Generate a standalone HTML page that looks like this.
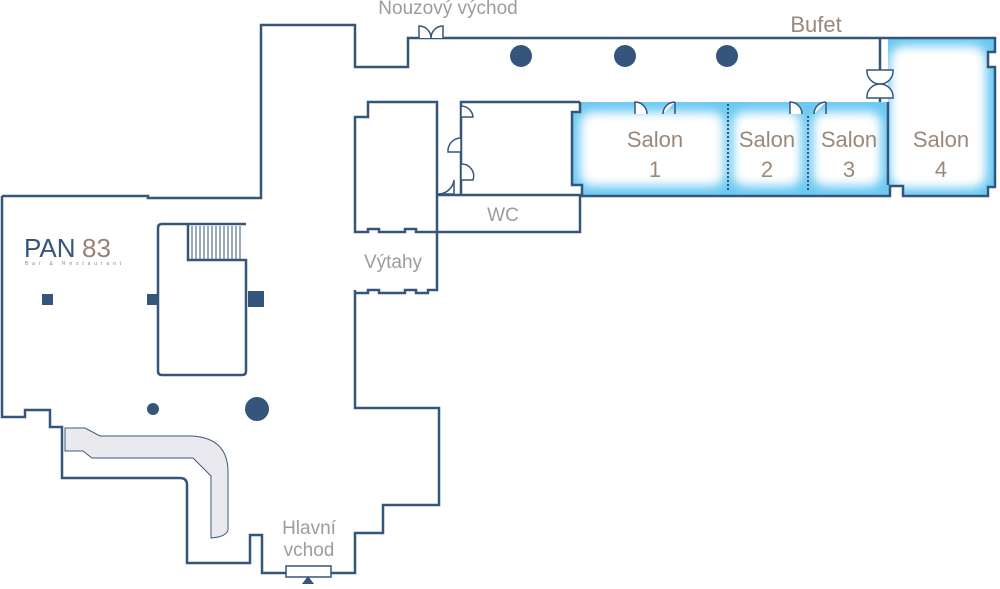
<!DOCTYPE html>
<html><head><meta charset="utf-8"><style>
html,body{margin:0;padding:0;background:#fff;width:1000px;height:589px;overflow:hidden}
svg{display:block}
.t{font-family:"Liberation Sans",sans-serif;}
</style></head><body>
<svg width="1000" height="589" viewBox="0 0 1000 589" xmlns="http://www.w3.org/2000/svg">
<defs>
<filter id="bl" x="-20%" y="-20%" width="140%" height="140%"><feGaussianBlur stdDeviation="5"/></filter>
<clipPath id="c1"><path d="M580,102 H888 V185 H890 V196 H582 V185 H572 V112 H580 Z"/></clipPath>
<clipPath id="c4"><path d="M880,38 H995 V52 H988 V67 H995 V187 H988 V196 H903 V186 H888 V38 Z"/></clipPath>
</defs>
<g clip-path="url(#c1)">
<rect x="560" y="95" width="340" height="110" fill="#6cc9f2"/>
<rect x="580" y="112" width="144" height="74" rx="12" fill="#fff" filter="url(#bl)"/>
<rect x="733" y="112" width="68" height="74" rx="12" fill="#fff" filter="url(#bl)"/>
<rect x="813" y="112" width="68" height="74" rx="12" fill="#fff" filter="url(#bl)"/>
</g>
<g clip-path="url(#c4)">
<rect x="870" y="30" width="135" height="175" fill="#6cc9f2"/>
<rect x="890" y="46" width="96" height="142" rx="14" fill="#fff" filter="url(#bl)"/>
</g>
<path d="M65,428 H85 L100,436 H192 Q228,438 228,472 V530 Q226,537 211,538 V476 L193,458 H92 L83,451 H65 Z" fill="#e9e9ee" stroke="#3a5a80" stroke-width="1"/>
<g fill="none" stroke="#36557a" stroke-width="2.5" stroke-linejoin="miter">
<path d="M2,196 H148 V198 H261 V25 H355 V67 H408 V38 H995 V52 H988 V67 H995 V187 H988 V196 H903 V186 H890 V196 H582 V185 H572 V112 H580 V102"/>
<path d="M2,196 V417 H25 V410 H50 V427 H62 V478 H180 Q187,478 187,485 V563 H250 V535 H262 V573 H355 V533 H383 V505 H439 V408 H355 V290"/>
<path d="M580,102 H461 V195"/>
<path d="M880,38 V102"/>
<path d="M888,102 V185"/>
<path d="M437,232 V102 H368 V117 H355 V232 H368 V229 H379 V232 H405 V229 H416 V232 H437 V290 H428 V293 H416 V290 H405 V293 H379 V290 H368 V293 H355"/>
<path d="M437,195 H580 V232 H437"/>
<path d="M246,224 H162 Q158,224 158,228 V371 Q158,375 162,375 H242 Q246,375 246,371 V260 H188 V224"/>
</g>
<g stroke="#36557a" stroke-width="2" stroke-dasharray="2,2">
<line x1="728" y1="104" x2="728" y2="190"/>
<line x1="808" y1="116" x2="808" y2="190"/>
</g>
<g stroke="#36557a" stroke-width="1">
<line x1="192" y1="226" x2="192" y2="259"/><line x1="196" y1="226" x2="196" y2="259"/><line x1="200" y1="226" x2="200" y2="259"/><line x1="204" y1="226" x2="204" y2="259"/><line x1="208" y1="226" x2="208" y2="259"/><line x1="212" y1="226" x2="212" y2="259"/><line x1="216" y1="226" x2="216" y2="259"/><line x1="220" y1="226" x2="220" y2="259"/><line x1="224" y1="226" x2="224" y2="259"/><line x1="228" y1="226" x2="228" y2="259"/><line x1="232" y1="226" x2="232" y2="259"/><line x1="236" y1="226" x2="236" y2="259"/><line x1="240" y1="226" x2="240" y2="259"/>
</g>
<g fill="#36557a">
<rect x="42" y="294" width="11" height="11"/>
<rect x="147" y="294" width="10" height="11"/>
<rect x="248" y="291" width="16" height="16"/>
<circle cx="153" cy="409" r="6"/>
<circle cx="257" cy="409" r="12"/>
<circle cx="521" cy="56" r="11"/>
<circle cx="625" cy="56" r="11"/>
<circle cx="727" cy="56" r="11"/>
</g>
<g fill="#fff" stroke="#36557a" stroke-width="1.5">
<path d="M419,38 V26 A12,12 0 0 1 431,38 M443,38 V26 A12,12 0 0 0 431,38"/>
<path d="M461,106 V117 H473 A12,12 0 0 0 461,106 Z"/>
<path d="M461,164 V180 H473 A12,12 0 0 0 461,164 Z"/>
<path d="M461,138 V152 H448 A13,13 0 0 1 461,138 Z"/>
<path d="M454,194 V180 A16,16 0 0 1 437,194 Z" fill="none"/>
<path d="M635,114 V102 A12,12 0 0 1 647,114 M675,102 V114 M663,114 A12,12 0 0 1 675,102"/>
<path d="M790,114 V102 A12,12 0 0 1 802,114 M826,102 V114 M814,114 A12,12 0 0 1 826,102"/>
<path d="M867,70 H893 A13,13 0 0 1 880,84 A13,13 0 0 1 867,70 Z M867,98 H893 A13,13 0 0 0 880,84 A13,13 0 0 0 867,98 Z"/>
<rect x="286" y="566" width="45" height="11"/>
</g>
<path d="M302,584 L308,576 L314,584 Z" fill="#36557a"/>
<g class="t" font-size="22" fill="#9a8878" text-anchor="middle">
<text x="655" y="147">Salon</text><text x="655" y="177">1</text>
<text x="767" y="147">Salon</text><text x="767" y="177">2</text>
<text x="849" y="147">Salon</text><text x="849" y="177">3</text>
<text x="941" y="147">Salon</text><text x="941" y="177">4</text>
<text x="816" y="32">Bufet</text>
</g>
<g class="t" font-size="19" fill="#9c9c9c" text-anchor="middle">
<text x="448" y="14">Nouzový východ</text>
<text x="503" y="221">WC</text>
<text x="393" y="268">Výtahy</text>
<text x="309" y="534">Hlavní</text>
<text x="309" y="556">vchod</text>
</g>
<text class="t" x="24" y="257" font-size="26" fill="#36557a">PAN</text>
<text class="t" x="82" y="257" font-size="26" fill="#9a8070">83</text>
<text class="t" x="25" y="265" font-size="5" fill="#9a8070" textLength="96">Bar &amp; Restaurant</text>
</svg>
</body></html>
